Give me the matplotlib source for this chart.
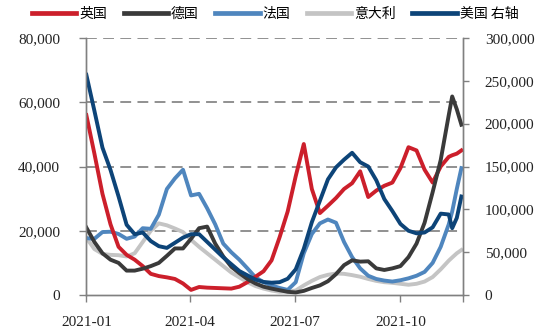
import numpy as np
import matplotlib
matplotlib.use('Agg')
import matplotlib.pyplot as plt
import matplotlib.dates as mdates

dates = np.array([
    '2021-01-01', '2021-01-08', '2021-01-15', '2021-01-22', '2021-01-29',
    '2021-02-05', '2021-02-12', '2021-02-19', '2021-02-26', '2021-03-05',
    '2021-03-12', '2021-03-19', '2021-03-26', '2021-04-02', '2021-04-09',
    '2021-04-16', '2021-04-23', '2021-04-30', '2021-05-07', '2021-05-14',
    '2021-05-21', '2021-05-28', '2021-06-04', '2021-06-11', '2021-06-18',
    '2021-06-25', '2021-07-02', '2021-07-09', '2021-07-16', '2021-07-23',
    '2021-07-30', '2021-08-06', '2021-08-13', '2021-08-20', '2021-08-27',
    '2021-09-03', '2021-09-10', '2021-09-17', '2021-09-24', '2021-10-01',
    '2021-10-08', '2021-10-15', '2021-10-22', '2021-10-29', '2021-11-05',
    '2021-11-12', '2021-11-15', '2021-11-19', '2021-11-23'], dtype='datetime64[D]')

uk = [56, 44, 31.5, 22, 15, 12.5, 11, 9, 6.6, 5.9, 5.5, 5, 3.6, 1.6, 2.5, 2.3, 2.2, 2.1, 2.0, 2.6,
      4, 5.7, 7.4, 10.8, 18, 26, 37, 47, 33, 25.5, 27.8, 30.2, 33, 34.8, 38.5, 30.5, 32.5, 34, 35,
      39.5, 46, 45, 39, 35, 40, 43, 43.5, 44, 45]
germany = [21, 16.5, 13, 11, 10, 7.6, 7.6, 8.2, 9, 10, 12.2, 14.5, 14.5, 17.5, 20.8, 21.3, 16, 12,
           8.8, 6.8, 5, 3.6, 2.6, 2, 1.5, 1, 0.8, 1.3, 2.2, 3, 4.3, 6.5, 9.3, 10.8, 10.4, 10.5, 8.3,
           7.8, 8.3, 9, 11.8, 16, 22.5, 32, 42, 56, 61.8, 57.8, 53]
france = [17.7, 17.5, 19.6, 19.7, 19, 17.5, 18.2, 20.8, 20.6, 25, 33, 36.3, 39, 31, 31.5, 27, 22, 16,
          13.3, 11, 8.3, 5.5, 4, 3, 2.2, 1.6, 4, 13, 19, 22.3, 23.5, 22.5, 16.5, 11.8, 8.3, 6, 5, 4.5,
          4.2, 4.6, 5.2, 6, 7.2, 10, 15, 22, 26, 33, 39.5]
italy = [17.8, 14.3, 12.8, 12.5, 12.4, 12, 13, 16.5, 20, 22.3, 21.7, 20.7, 19.6, 17.2, 15, 13, 11, 9,
         7, 5.5, 4, 2.8, 2, 1.4, 1, 1.1, 1.4, 3, 4.4, 5.6, 6.3, 6.7, 6.6, 6.2, 5.7, 5, 4.4, 4, 3.8,
         3.5, 3.2, 3.5, 4.2, 5.6, 8, 10.7, 11.7, 13, 14]
usa = [257, 215, 172, 146, 115, 82, 71, 73, 63, 57, 55, 61, 67, 71, 71, 62, 53, 44, 36, 28, 23, 18,
       15.3, 14.4, 15, 19, 30, 54, 85, 110, 135, 149, 158, 166, 155, 150, 134, 112, 98, 83, 75, 72,
       73, 79, 95, 94, 78, 90, 115]

labels = ['英国', '德国', '法国', '意大利', '美国 右轴']
colors = ['#cc1f2b', '#3a3a3a', '#4f86be', '#c4c4c4', '#0d4478']
xtick_dates = np.array(['2021-01-01', '2021-04-01', '2021-07-01', '2021-10-01'], dtype='datetime64[D]')
xtick_labels = ['2021-01', '2021-04', '2021-07', '2021-10']

serif = 'Liberation Serif'
cjk = ['Noto Sans CJK SC', 'DejaVu Sans']

fig = plt.figure(figsize=(5.5, 3.33), dpi=100)
ax = fig.add_axes([0.157, 0.114, 0.684, 0.772])
ax2 = ax.twinx()

lw = 2.8
k = 1000
ax.plot(dates, np.array(italy) * k, color=colors[3], lw=lw, zorder=2)
ax.plot(dates, np.array(france) * k, color=colors[2], lw=lw, zorder=3)
ax.plot(dates, np.array(uk) * k, color=colors[0], lw=lw, zorder=4)
ax.plot(dates, np.array(germany) * k, color=colors[1], lw=lw, zorder=5)
ax2.plot(dates, np.array(usa) * k, color=colors[4], lw=lw)

xmin = np.datetime64('2021-01-01')
xmax = np.datetime64('2021-11-24')
ax.set_xlim(xmin, xmax)
ax.set_ylim(0, 80000)
ax2.set_ylim(0, 300000)

ax.set_yticks([0, 20000, 40000, 60000, 80000])
ax.set_yticklabels(['0', '20,000', '40,000', '60,000', '80,000'], fontfamily=serif, fontsize=11)
ax2.set_yticks([0, 50000, 100000, 150000, 200000, 250000, 300000])
ax2.set_yticklabels(['0', '50,000', '100,000', '150,000', '200,000', '250,000', '300,000'],
                    fontfamily=serif, fontsize=11)
ax.set_xticks(list(xtick_dates) + [xmax])
ax.set_xticklabels(xtick_labels + [''], fontfamily=serif, fontsize=11)

for y in [20000, 40000, 60000, 80000]:
    ax.axhline(y, color='#888888', lw=1.3, ls=(0, (6, 3.5)), zorder=1)

for a in (ax, ax2):
    a.spines['top'].set_visible(False)
    for s in ('left', 'right', 'bottom'):
        a.spines[s].set_color('#808080')
        a.spines[s].set_linewidth(1.0)
ax.tick_params(axis='y', direction='out', length=5, width=1, color='#808080', pad=14, labelcolor='#222222')
ax2.tick_params(axis='y', direction='out', length=4, width=1, color='#808080', pad=12, labelcolor='#222222')
ax.tick_params(axis='x', direction='out', length=5, width=1, color='#808080', pad=10, labelcolor='#222222')

handles = [plt.Line2D([], [], color=c, lw=3.4) for c in colors]
fig.legend(handles, labels, loc='center', bbox_to_anchor=(0.5, 0.957), ncol=5, frameon=False,
           prop={'family': cjk, 'size': 10}, handlelength=3.2, handletextpad=0.2,
           columnspacing=1.2, borderaxespad=0)

fig.savefig('out.png', dpi=100)
